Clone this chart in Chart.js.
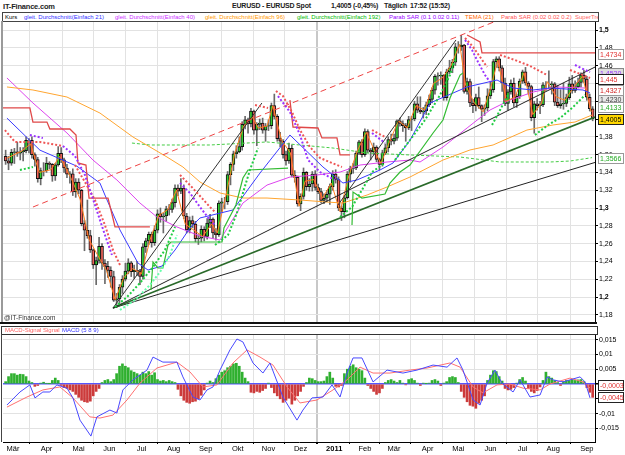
<!DOCTYPE html>
<html>
<head>
<meta charset="utf-8">
<title>EURUSD</title>
<script src="https://cdn.jsdelivr.net/npm/chart.js@4.4.0/dist/chart.umd.min.js"></script>
<style>
  body { margin: 0; background: #fff; font-family: "Liberation Sans", Arial, sans-serif; }
  #page { position: relative; width: 625px; height: 455px; overflow: hidden; }
  .abs { position: absolute; white-space: nowrap; }
  canvas { position: absolute; left: 0; }
  #priceChart { top: 22px; }
  #macdChart { top: 334px; }
  .hdr { top: 2px; font-size: 7px; font-weight: bold; color: #222; letter-spacing: -0.2px; }
  #legend { left: 2px; top: 12px; width: 595px; height: 8px; border: 1px solid #444; font-size: 6px; line-height: 8px; overflow: hidden; background: #fff; }
  #legend span, #macdLegend span { position: absolute; top: 0; }
  #macdLegend { left: 1px; top: 326px; width: 595px; height: 7px; border: 1px solid #333; font-size: 6px; line-height: 7px; background: #fff; }
  #leftBar { left: 1px; top: 21px; width: 2px; height: 302px; background: #9a9a9a; }
  #bottomLine { left: 0; top: 322px; width: 597px; height: 2px; background: #111; }
  #macdLeft { left: 1px; top: 334px; width: 1px; height: 108px; background: #444; }
  #watermark { left: 4px; top: 314px; font-size: 6.5px; color: #333; }
</style>
</head>
<body>
<div id="page">
  <div class="abs hdr" style="left:3px;font-size:7.5px">IT-Finance.com</div>
  <div class="abs hdr" style="left:232px">EURUSD - EURUSD Spot</div>
  <div class="abs hdr" style="left:331px">1,4005 (-0,45%)</div>
  <div class="abs hdr" style="left:384px">Täglich</div>
  <div class="abs hdr" style="left:410px">17:52 (15:52)</div>
  <canvas id="priceChart" width="625" height="301"></canvas>
  <canvas id="macdChart" width="625" height="121"></canvas>
  <div id="legend" class="abs">
    <span style="left:2px;color:#000">Kurs</span>
    <span style="left:21px;color:#3333ff">gleit. Durchschnitt(Einfach 21)</span>
    <span style="left:112px;color:#cc33ff">gleit. Durchschnitt(Einfach 40)</span>
    <span style="left:202px;color:#ff9900">gleit. Durchschnitt(Einfach 96)</span>
    <span style="left:294px;color:#00bb00">gleit. Durchschnitt(Einfach 192)</span>
    <span style="left:386px;color:#9900ff">Parab SAR (0.1 0.02 0.11)</span>
    <span style="left:462px;color:#ff6600">TEMA (21)</span>
    <span style="left:498px;color:#ff5555">Parab SAR (0.02 0.02 0.2)</span>
    <span style="left:572px;color:#ff6666">SuperTrend</span>
  </div>
  <div id="leftBar" class="abs"></div>
  <div id="bottomLine" class="abs"></div>
  <div id="watermark" class="abs">@IT-Finance.com</div>
  <div id="macdLegend" class="abs">
    <span style="left:3px;color:#ff6666">MACD-Signal Signal</span>
    <span style="left:60px;color:#3333ff">MACD (5 8 9)</span>
  </div>
  <div id="macdLeft" class="abs"></div>
</div>
<script>
// x = trading day index, 0 = 1 Mar 2010
const monthLabels = ["Mär","Apr","Mai","Jun","Jul","Aug","Sep","Okt","Nov","Dez","2011","Feb","Mär","Apr","Mai","Jun","Jul","Aug","Sep"];
const monthStarts = [0,23,45,66,88,110,132,154,175,197,220,241,261,284,305,327,349,370,393];
const priceTicks = [1.18,1.2,1.22,1.24,1.26,1.28,1.3,1.32,1.34,1.36,1.38,1.4,1.42,1.44,1.46,1.48,1.5];
const macdTicks = [-0.015,-0.01,-0.005,0,0.005,0.01,0.015];

// candles, one per two trading days, starting at x = -5
const firstOpen = 1.358;
const closes = [
  1.353,1.3505,1.3625,1.363,1.3615,1.363,1.3645,1.376,1.376,1.360,1.3545,1.333,1.342,1.342,1.3505,1.349,1.336,1.3485,1.3615,1.354,
  1.345,1.338,1.3385,1.318,1.329,1.320,1.2825,1.275,1.269,1.253,1.236,1.241,1.257,1.238,1.2345,1.230,1.223,1.1965,1.198,1.211,
  1.220,1.229,1.2385,1.2285,1.230,1.229,1.223,1.2565,1.263,1.2705,1.261,1.275,1.2935,1.290,1.291,1.299,1.2985,1.306,1.3225,1.319,
  1.3225,1.291,1.2755,1.286,1.282,1.2655,1.266,1.276,1.268,1.283,1.2875,1.272,1.270,1.3055,1.307,1.307,1.3375,1.349,1.361,1.363,
  1.369,1.394,1.399,1.3945,1.409,1.3875,1.394,1.3955,1.3875,1.392,1.3925,1.415,1.403,1.378,1.375,1.360,1.353,1.367,1.337,1.3345,
  1.3045,1.313,1.340,1.324,1.327,1.338,1.323,1.3185,1.3085,1.311,1.3155,1.324,1.338,1.332,1.300,1.296,1.3115,1.338,1.3445,1.345,
  1.3615,1.3745,1.360,1.386,1.365,1.363,1.3685,1.3545,1.349,1.362,1.3675,1.377,1.375,1.3785,1.398,1.395,1.3925,1.390,1.3995,1.400,
  1.417,1.410,1.408,1.409,1.416,1.422,1.4325,1.448,1.4485,1.449,1.424,1.453,1.4575,1.464,1.481,1.481,1.483,1.431,1.442,1.418,
  1.415,1.424,1.415,1.411,1.4125,1.426,1.433,1.4645,1.4675,1.4575,1.4405,1.4175,1.4305,1.440,1.418,1.4255,1.4425,1.453,1.4405,1.4365,
  1.4015,1.417,1.415,1.416,1.4385,1.4385,1.4385,1.4395,1.419,1.415,1.417,1.4175,1.424,1.4395,1.432,1.436,1.441,1.4495,1.445,1.4245,
  1.4115,1.4005
];
const highs = [
  1.365,1.358,1.366,1.367,1.374,1.368,1.368,1.380,1.378,1.380,1.362,1.357,1.345,1.351,1.357,1.352,1.350,1.350,1.369,1.368,
  1.356,1.349,1.341,1.344,1.333,1.333,1.321,1.286,1.309,1.275,1.254,1.245,1.267,1.260,1.242,1.240,1.234,1.229,1.204,1.214,
  1.224,1.238,1.243,1.240,1.236,1.240,1.231,1.260,1.266,1.273,1.273,1.280,1.298,1.300,1.294,1.302,1.304,1.310,1.326,1.326,
  1.333,1.326,1.294,1.290,1.291,1.285,1.270,1.280,1.279,1.288,1.293,1.289,1.277,1.308,1.311,1.312,1.341,1.351,1.364,1.370,
  1.380,1.397,1.403,1.401,1.412,1.410,1.396,1.400,1.401,1.395,1.399,1.418,1.428,1.405,1.385,1.377,1.364,1.373,1.371,1.342,
  1.336,1.316,1.345,1.341,1.333,1.341,1.342,1.327,1.322,1.316,1.320,1.327,1.342,1.343,1.335,1.302,1.314,1.341,1.347,1.350,
  1.364,1.376,1.377,1.389,1.388,1.367,1.373,1.370,1.356,1.365,1.372,1.380,1.383,1.383,1.399,1.401,1.398,1.395,1.403,1.403,
  1.420,1.425,1.425,1.413,1.419,1.427,1.435,1.450,1.452,1.453,1.450,1.456,1.466,1.467,1.485,1.487,1.494,1.484,1.446,1.445,
  1.422,1.428,1.436,1.416,1.416,1.434,1.442,1.467,1.470,1.470,1.460,1.446,1.433,1.444,1.446,1.428,1.445,1.455,1.458,1.442,
  1.438,1.420,1.423,1.420,1.441,1.442,1.454,1.442,1.441,1.438,1.433,1.440,1.428,1.447,1.449,1.443,1.446,1.452,1.455,1.448,
  1.428,1.414
];
const lows = [
  1.349,1.343,1.348,1.350,1.358,1.354,1.353,1.362,1.362,1.356,1.347,1.329,1.326,1.336,1.340,1.344,1.330,1.331,1.347,1.351,
  1.340,1.334,1.328,1.314,1.312,1.316,1.280,1.252,1.266,1.250,1.232,1.214,1.238,1.231,1.215,1.222,1.211,1.195,1.188,1.192,
  1.204,1.218,1.226,1.223,1.221,1.224,1.214,1.220,1.250,1.259,1.256,1.258,1.272,1.284,1.272,1.285,1.292,1.295,1.301,1.314,
  1.316,1.288,1.272,1.272,1.278,1.262,1.259,1.262,1.263,1.265,1.278,1.266,1.264,1.268,1.296,1.299,1.304,1.326,1.342,1.356,
  1.362,1.365,1.389,1.384,1.391,1.383,1.370,1.388,1.384,1.375,1.387,1.389,1.400,1.375,1.369,1.356,1.348,1.350,1.335,1.329,
  1.302,1.297,1.310,1.320,1.319,1.319,1.320,1.316,1.306,1.305,1.307,1.304,1.320,1.328,1.297,1.286,1.289,1.310,1.329,1.339,
  1.343,1.360,1.357,1.358,1.362,1.354,1.360,1.352,1.343,1.347,1.360,1.363,1.371,1.372,1.376,1.392,1.386,1.375,1.388,1.387,
  1.398,1.407,1.406,1.401,1.405,1.414,1.418,1.428,1.438,1.439,1.421,1.421,1.451,1.452,1.460,1.474,1.477,1.429,1.428,1.414,
  1.407,1.409,1.412,1.397,1.404,1.409,1.423,1.430,1.458,1.454,1.431,1.415,1.410,1.428,1.414,1.413,1.423,1.440,1.438,1.428,
  1.398,1.384,1.410,1.406,1.414,1.432,1.434,1.428,1.415,1.413,1.412,1.411,1.414,1.422,1.429,1.430,1.435,1.436,1.441,1.421,
  1.409,1.398
];

// indicator lines: [day index, price]
const sma21 = [[-4.1,1.401],[18.5,1.365],[43.8,1.347],[59.6,1.328],[63,1.3146],[73.3,1.2753],[85.6,1.2382],[92.5,1.2303],[102.1,1.2348],[111,1.2528],[121.2,1.2775],[128.1,1.2888],[150.7,1.2978],[169.2,1.3393],[189.7,1.382],[212.3,1.3461],[226,1.3281],[235.6,1.3315],[251.4,1.3427],[260.3,1.3506],[271.9,1.376],[285.6,1.418],[311,1.436],[331.5,1.4438],[342.5,1.4348],[356.2,1.4326],[367.8,1.4348],[390.4,1.4326],[395.2,1.4292]];
const sma40 = [[-4.1,1.4461],[13.7,1.418],[37,1.3843],[54.8,1.3539],[71.2,1.3315],[87,1.3056],[98.6,1.2899],[112.3,1.2787],[128.1,1.2685],[141.8,1.264],[157.5,1.3056],[174,1.3258],[189.7,1.3348],[208.2,1.3371],[224,1.3404],[237.7,1.3483],[256.2,1.3517],[271.9,1.3539],[278.8,1.3517],[294.5,1.3685],[311,1.3899],[326.7,1.4101],[340.4,1.4213],[356.2,1.4303],[372.6,1.436],[391.8,1.4348]];
const sma96 = [[-4.1,1.436],[13.7,1.4326],[37,1.4247],[59.6,1.4067],[82.2,1.3798],[105.5,1.3573],[116.4,1.3461],[128.1,1.3292],[141.8,1.3169],[157.5,1.3112],[174,1.3112],[196.6,1.309],[215.1,1.3067],[226,1.3056],[242.5,1.3146],[256.2,1.3236],[271.9,1.3348],[294.5,1.3539],[313,1.3652],[328.8,1.3708],[352,1.3876],[369.9,1.3933],[384.9,1.3966],[396.6,1.4045]];
const sma192 = [[81.5,1.373],[93.8,1.3708],[134.9,1.3708],[174,1.3742],[196.6,1.3708],[219.2,1.3674],[242.5,1.3618],[271.9,1.3596],[306.2,1.3573],[333.6,1.3517],[367.8,1.3517],[381.5,1.3528],[396.6,1.3566]];
const tema21 = [[-4,1.356],[6,1.364],[12,1.372],[18,1.340],[26,1.343],[32,1.358],[40,1.333],[46,1.310],[52,1.265],[58,1.247],[64,1.230],[70,1.197],[76,1.222],[82,1.232],[88,1.226],[94,1.265],[100,1.292],[106,1.298],[112,1.320],[118,1.282],[124,1.275],[130,1.268],[136,1.282],[140,1.272],[146,1.315],[152,1.362],[158,1.392],[164,1.402],[168,1.390],[174,1.392],[178,1.415],[184,1.376],[190,1.362],[196,1.302],[200,1.330],[206,1.332],[212,1.311],[218,1.328],[224,1.296],[230,1.336],[236,1.365],[242,1.385],[248,1.363],[252,1.350],[258,1.375],[264,1.398],[270,1.390],[276,1.415],[282,1.410],[288,1.440],[294,1.446],[300,1.460],[306,1.484],[310,1.438],[316,1.418],[322,1.408],[328,1.440],[332,1.466],[338,1.420],[344,1.425],[350,1.452],[356,1.405],[362,1.418],[366,1.442],[372,1.425],[378,1.421],[384,1.436],[390,1.448],[396,1.408]];

const superTrendDown = [
  [[-6.8,1.4124],[11.6,1.4124],[13.7,1.3966],[23.3,1.3966],[25.3,1.3888],[39,1.3888],[43.2,1.382],[44.5,1.3506],[50,1.3483],[52.1,1.3112],[65.1,1.3112],[67.8,1.2933],[69.9,1.2787],[93.8,1.2787]],
  [[189.7,1.4213],[191.8,1.391],[208.9,1.3899],[211.6,1.3787],[221.9,1.3787],[224,1.3596],[230.8,1.3596]],
  [[311,1.4944],[319.9,1.4865],[321.2,1.4742],[398.6,1.4742]]
];
const superTrendUp = [
  [[94.5,1.2079],[95.9,1.2393],[99.3,1.2326],[102.7,1.2326],[106.2,1.2584],[108.2,1.2618],[143.2,1.2618],[144.5,1.2775],[152.7,1.3034],[157.5,1.3337],[161,1.3427],[188.4,1.3449]],
  [[232.2,1.2809],[232.9,1.318],[239,1.3112],[254.8,1.3157],[258.2,1.3281],[265.1,1.3404],[271.9,1.3483],[287.7,1.3843],[294.5,1.3989],[299.3,1.4236],[306.2,1.4494],[308.2,1.4517]]
];

const sarPurple = [
  [[11.6,1.382],[20.5,1.3787]],
  [[34.2,1.3697],[42.5,1.3584],[49.3,1.3371],[56.2,1.3034],[63,1.2697],[67.8,1.2472]],
  [[114.4,1.3281],[121.2,1.3169],[128.1,1.3011],[134.9,1.2865],[138.4,1.2809]],
  [[181.5,1.4258],[189.7,1.4079],[196.6,1.382],[202.1,1.3539],[210.3,1.3404],[220.5,1.3315]],
  [[245.9,1.3843],[254.8,1.373]],
  [[309.6,1.4888],[314.4,1.4775],[318.5,1.464],[323.3,1.4494],[326.7,1.4416]],
  [[384.9,1.4607],[391.8,1.4551],[395.2,1.4528]]
];
const sarRed = [
  [[-5.5,1.3876],[1.4,1.3742],[18.5,1.3742],[34.2,1.3697]],
  [[42.5,1.3483],[49.3,1.3292],[56.2,1.309],[63,1.2809],[68.5,1.2528],[73.3,1.236]],
  [[114.4,1.3371],[121.2,1.3258],[128.1,1.3135],[134.9,1.3011],[138.4,1.2955]],
  [[165.8,1.4157],[174.7,1.4124]],
  [[180.1,1.4315],[184.9,1.4258],[191.1,1.4079],[196.6,1.3876],[203.4,1.3685],[210.3,1.3562],[218.5,1.3506],[225.3,1.3461]],
  [[245.9,1.3876],[254.8,1.3798]],
  [[309.6,1.491],[315.1,1.481],[319.9,1.4697],[324.7,1.4584]],
  [[333.6,1.4719],[343.8,1.4663],[354.1,1.4596],[365.8,1.4494]],
  [[381.5,1.4551],[395.2,1.4461]]
];
const sarGreen = [
  [[4.8,1.3427],[13.7,1.3461]],
  [[69.9,1.1888],[78.1,1.2],[87,1.2157],[95.9,1.2337],[104.1,1.2528],[111,1.2787]],
  [[138.4,1.2584],[147.3,1.2697],[153.4,1.2944],[157.5,1.3169],[162.3,1.3427],[167.8,1.3674]],
  [[224,1.2899],[232.2,1.3011],[239,1.3202],[245.9,1.3404],[254.8,1.3506]],
  [[261.6,1.3539],[271.9,1.3764],[282.2,1.3989],[292.5,1.427],[299.3,1.4494],[303.4,1.4685]],
  [[328.1,1.3933],[333.6,1.4101],[339,1.427]],
  [[357.5,1.382],[366.4,1.3933],[374.7,1.4011],[383.6,1.4135],[391.8,1.427]]
];
const sarLightGreen = [
  [[73.3,1.1854],[83.6,1.1966],[93.8,1.2135],[100.7,1.2281],[107.5,1.2472],[112.3,1.2697]]
];

// drawn trend lines: [day index, price]
const channelRed = [[13.7,1.3011],[337,1.5141]];
const fanA = [[68.5,1.1876],[398.6,1.4584]];
const fanB = [[68.5,1.1876],[398.6,1.4022]];
const fanC = [[68.5,1.1876],[398.6,1.3512]];
const rallyLine = [[68.5,1.1876],[170.5,1.418]];
const rallyLine2 = [[222.6,1.3034],[303.4,1.4888]];

// MACD panel
const macdHist = [
  0.0008,0.0025,0.0035,0.0035,0.003,0.0033,0.0032,0.0025,0.001,0.0005,
  -0.0008,-0.0005,0.0003,0.0006,0.0002,0.0001,0.0012,0.002,0.0012,-0.0005,
  -0.0012,-0.0015,-0.002,-0.0025,-0.0035,-0.0045,-0.0055,-0.006,-0.0062,-0.0058,
  -0.004,-0.0025,-0.0015,0.0005,0.0012,0.0015,0.0008,0.0015,0.0035,0.006,
  0.0068,0.006,0.0055,0.0045,0.004,0.0035,0.003,0.004,0.0035,0.0042,
  0.003,0.0038,0.0015,0.001,0.0012,0.0008,0.0012,0.0008,0.0005,-0.0018,
  -0.004,-0.0055,-0.0062,-0.0065,-0.006,-0.0058,-0.005,-0.0038,-0.002,0.0003,
  0.001,0.0005,0.0018,0.003,0.004,0.0045,0.0055,0.006,0.0068,0.007,
  0.006,0.004,0.002,0.0008,-0.0028,-0.003,-0.0025,-0.0028,-0.0022,-0.0015,
  0.0003,-0.0012,-0.003,-0.004,-0.005,-0.0062,-0.0055,-0.0048,-0.0068,-0.0055,
  -0.004,-0.0025,-0.0008,0.0005,0.002,0.0018,0.0012,0.0008,0.0008,0.001,
  0.0025,0.004,0.002,-0.0008,-0.001,-0.0005,0.0035,0.005,0.006,0.0065,
  0.0055,0.005,0.0045,0.002,-0.0005,-0.0015,-0.0025,-0.0035,-0.003,-0.0015,
  0.0005,0.0012,0.0015,0.001,0.0005,0.0012,0.0003,-0.0003,0.0015,0.0018,
  0.0012,0.0003,-0.0005,0.0003,0.0001,0.0003,0.0012,0.0015,0.001,-0.0005,
  0.0003,0.0008,0.0022,0.0025,0.0022,0.0005,-0.0025,-0.0045,-0.006,-0.0072,
  -0.0075,-0.0082,-0.0065,-0.0055,-0.004,0.0012,0.003,0.0045,0.0042,0.0025,
  0.001,-0.0015,-0.002,-0.0018,-0.0012,0.0003,0.0015,0.0022,0.001,-0.0015,
  -0.0025,-0.003,-0.0022,-0.001,0.0012,0.004,0.0025,0.002,0.0012,0.0005,
  -0.0005,0.0008,0.0012,0.0012,0.0015,0.0012,0.0014,0.0015,0.0008,-0.0012,
  -0.0028,-0.0045
];
const macdLine = [[-4.1,-0.0071],[4.8,-0.0027],[11.6,-0.0003],[15.1,-0.0047],[20.5,-0.0027],[25.3,-0.0027],[30.1,-0.0003],[37,-0.0014],[41.1,-0.0047],[45.9,-0.0122],[53.4,-0.0176],[57.5,-0.0111],[66.4,-0.0088],[71.2,-0.0098],[75.3,-0.002],[82.2,0.0014],[91.8,0.0047],[95.9,0.0091],[102.7,0.0074],[112.3,0.0074],[116.4,0.0024],[123.3,-0.0044],[128.1,-0.0054],[132.9,-0.002],[137,-0.001],[141.8,0.0047],[148.6,0.0115],[153.4,0.0152],[157.5,0.0142],[164.4,0.0071],[171.2,0.0037],[176,0.0071],[184.9,-0.0044],[194.5,-0.0122],[198.6,-0.0088],[204.8,-0.0047],[212.3,-0.0044],[218.5,-0.0003],[224,-0.0044],[228.8,0.0037],[232.9,0.0088],[239,0.0088],[246.6,0.0007],[256.2,0.0047],[267.1,0.0037],[276.7,0.0047],[287.7,0.0064],[297.3,0.0057],[304.1,0.0088],[308.2,0.0047],[315.1,-0.0054],[319.9,-0.0071],[324.7,0.0003],[330.1,0.0047],[334.9,0.0003],[342.5,-0.0027],[347.3,0.0014],[354.1,-0.0044],[361,-0.0037],[365.8,0.0024],[369.9,0.0014],[376.7,0.0007],[388.4,0.0024],[391.8,0.0007],[395.2,-0.0047]];
const signalLine = [[-4.1,-0.0078],[9.6,-0.0044],[20.5,-0.002],[32.2,-0.001],[41.1,-0.0047],[52.7,-0.0111],[59.6,-0.0115],[68.5,-0.0105],[78.1,-0.0054],[87,0.0003],[98.6,0.0054],[112.3,0.0074],[121.2,0.0041],[130.1,-0.001],[139.7,-0.0003],[150.7,0.0071],[160.3,0.0115],[169.2,0.0091],[178.1,0.0064],[187.7,-0.001],[196.6,-0.0064],[208.2,-0.0054],[219.2,-0.002],[228.8,0.0014],[237.7,0.0057],[246.6,0.0037],[258.2,0.0037],[271.9,0.0047],[283.6,0.0054],[299.3,0.0071],[306.2,0.0057],[315.1,-0.001],[321.9,-0.003],[331.5,-0.0003],[340.4,0],[349.3,-0.0014],[361,-0.002],[367.8,0],[381.5,0.002],[390.4,0.0007],[395.2,-0.0014]];

// last-value tags on the right axis
const priceTagValues = [1.4734, 1.4520, 1.4230, 1.445, 1.4327, 1.4133, 1.4005, 1.3566];
const priceTagTexts = ["1,4734", "1,4520", "1,4230", "1,445", "1,4327", "1,4133", "1,4005", "1,3566"];
const macdTagValues = [-0.0003, -0.0045];
const macdTagTexts = ["-0,0003", "-0,0045"];

// ---------- build ----------
const X_MIN = -6.8, X_MAX = 398.6;
const FONT = '"Liberation Sans", Arial, sans-serif';
const candleX = closes.map((c, i) => -5 + 2 * i);
const opens = closes.map((c, i) => i ? closes[i - 1] : firstOpen);

function lineSet(points, color, width, dash, order) {
  return {
    type: 'line',
    data: points.map(p => ({ x: p[0], y: p[1] })),
    borderColor: color, borderWidth: width, borderDash: dash || [],
    pointRadius: 0, fill: false, tension: 0, order: order
  };
}

function tagPlugin(values, texts, styles) {
  return {
    id: 'tags',
    afterDraw(chart) {
      const { ctx, chartArea } = chart;
      const ys = chart.scales.y;
      ctx.save();
      ctx.font = '7px ' + FONT;
      ctx.textBaseline = 'middle';
      values.forEach((v, i) => {
        const s = styles[i];
        const y = Math.round(ys.getPixelForValue(v));
        const x = chartArea.right + 3;
        ctx.fillStyle = s.bg;
        ctx.fillRect(x, y - 5, 26, 11);
        ctx.strokeStyle = s.border;
        ctx.lineWidth = 1;
        ctx.strokeRect(x + 0.5, y - 4.5, 25, 10);
        ctx.fillStyle = s.color;
        ctx.fillText(texts[i], x + 2, y + 1);
      });
      ctx.restore();
    }
  };
}

function noPad(s) { s.paddingTop = 0; s.paddingBottom = 0; s.paddingLeft = 0; s.paddingRight = 0; }
const isTick = (ctx, v) => !!(ctx.tick && Math.abs(ctx.tick.value - v) < 1e-9);
const isWhole = ctx => !!(ctx.tick && Math.abs(ctx.tick.value * 10 - Math.round(ctx.tick.value * 10)) < 1e-6);

const priceFmt = v => String(Number(v.toFixed(2))).replace('.', ',');
const macdFmt = v => Math.abs(v) < 1e-9 ? '0' : String(Number(v.toFixed(3))).replace('.', ',');

const datasets = [];
datasets.push({
  type: 'bar', data: candleX.map((x, i) => ({ x: x, y: [lows[i], highs[i]] })),
  backgroundColor: '#6a6a6a', borderWidth: 0, barThickness: 1, grouped: false, order: 20
});
datasets.push({
  type: 'bar', data: candleX.map((x, i) => ({ x: x, y: [opens[i], closes[i]] })),
  backgroundColor: closes.map((c, i) => c >= opens[i] ? '#33cc33' : '#f0625a'),
  borderColor: '#111', borderWidth: 1, borderSkipped: false,
  barThickness: 3, grouped: false, order: 19
});
datasets.push(lineSet(sma192, '#44cc44', 1, [3, 2], 8));
datasets.push(lineSet(sma96, '#ffa530', 1, [], 7));
datasets.push(lineSet(sma40, '#dd44ee', 1, [], 7));
datasets.push(lineSet(sma21, '#3a3aff', 1, [], 6));
datasets.push(lineSet(tema21, '#ff8020', 1, [], 6));
datasets.push(lineSet(channelRed, '#ee4444', 1, [6, 4], 5));
datasets.push(lineSet(fanA, '#222', 1, [], 5));
datasets.push(lineSet(fanB, '#2a6a2a', 1.6, [], 5));
datasets.push(lineSet(fanC, '#222', 1, [], 5));
datasets.push(lineSet(rallyLine, '#333', 1, [], 5));
datasets.push(lineSet(rallyLine2, '#333', 1, [], 5));
superTrendDown.forEach(seg => datasets.push(lineSet(seg, '#e04848', 1.3, [], 4)));
superTrendUp.forEach(seg => datasets.push(lineSet(seg, '#33bb33', 1.2, [], 4)));
sarPurple.forEach(seg => datasets.push(lineSet(seg, '#9933ff', 2, [2, 2], 3)));
sarRed.forEach(seg => datasets.push(lineSet(seg, '#ee5555', 2, [2, 2], 3)));
sarGreen.forEach(seg => datasets.push(lineSet(seg, '#22cc44', 2, [2, 2], 3)));
sarLightGreen.forEach(seg => datasets.push(lineSet(seg, '#66ffaa', 2, [2, 2], 3)));

const xGrid = {
  color: ctx => isTick(ctx, 220) ? '#c8c8c8' : '#e2e2e2',
  lineWidth: ctx => isTick(ctx, 220) ? 2 : 1,
  drawTicks: false
};

new Chart(document.getElementById('priceChart'), {
  type: 'line',
  data: { datasets: datasets },
  options: {
    responsive: false, animation: false, events: [],
    layout: { padding: { left: 3, right: 0, top: 0, bottom: 0 } },
    plugins: { legend: { display: false }, tooltip: { enabled: false } },
    scales: {
      x: {
        type: 'linear', min: X_MIN, max: X_MAX, offset: false,
        afterBuildTicks: s => { s.ticks = monthStarts.map(v => ({ value: v })); },
        ticks: { display: false },
        grid: xGrid,
        border: { display: false },
        afterFit: s => { s.height = 0; noPad(s); }
      },
      y: {
        position: 'right', min: 1.1708, max: 1.509,
        afterBuildTicks: s => { s.ticks = priceTicks.map(v => ({ value: v })); },
        ticks: {
          callback: v => priceFmt(v), color: '#000', padding: 1,
          font: ctx => ({ family: FONT, size: 7, weight: isWhole(ctx) ? 'bold' : 'normal' })
        },
        grid: { color: '#e2e2e2', tickColor: '#000', tickLength: 3 },
        border: { color: '#000' },
        afterFit: s => { s.width = 30; noPad(s); }
      }
    }
  },
  plugins: [tagPlugin(priceTagValues, priceTagTexts, [
    { bg: '#fff', border: '#999', color: '#e03030' },
    { bg: '#dedede', border: '#888', color: '#9933ff' },
    { bg: '#e8e8e8', border: '#888', color: '#444' },
    { bg: '#fff', border: '#222', color: '#e03030' },
    { bg: '#fff', border: '#999', color: '#d02020' },
    { bg: '#fff', border: '#999', color: '#22aa22' },
    { bg: '#ffd700', border: '#222', color: '#000' },
    { bg: '#fff', border: '#999', color: '#22aa22' }
  ])]
});

new Chart(document.getElementById('macdChart'), {
  type: 'line',
  data: {
    datasets: [
      {
        type: 'bar', data: macdHist.map((v, i) => ({ x: -5 + 2 * i, y: v })),
        backgroundColor: macdHist.map(v => v >= 0 ? '#2fb02f' : '#cc3b3b'),
        borderWidth: 0, barThickness: 2, grouped: false, order: 5
      },
      lineSet(signalLine, '#ff7070', 1, [], 2),
      lineSet(macdLine, '#4848ff', 1, [], 1)
    ]
  },
  options: {
    responsive: false, animation: false, events: [],
    layout: { padding: { left: 3, right: 0, top: 0, bottom: 0 } },
    plugins: { legend: { display: false }, tooltip: { enabled: false } },
    scales: {
      x: {
        type: 'linear', min: X_MIN, max: X_MAX, offset: false,
        afterBuildTicks: s => { s.ticks = monthStarts.map(v => ({ value: v })); },
        ticks: {
          callback: (v, i) => monthLabels[i], color: '#000', padding: 0, maxRotation: 0, autoSkip: false,
          font: ctx => ({ family: FONT, size: 7.5, weight: isTick(ctx, 220) ? 'bold' : 'normal' })
        },
        grid: { color: ctx => isTick(ctx, 220) ? '#c8c8c8' : '#e2e2e2', lineWidth: ctx => isTick(ctx, 220) ? 2 : 1, tickColor: '#000', tickLength: 2 },
        border: { color: '#000', width: 1 },
        afterFit: s => { s.height = 13; noPad(s); }
      },
      y: {
        position: 'right', min: -0.01959, max: 0.01689,
        afterBuildTicks: s => { s.ticks = macdTicks.map(v => ({ value: v })); },
        ticks: { callback: v => macdFmt(v), color: '#000', padding: 1, font: { family: FONT, size: 7 } },
        grid: {
          color: ctx => isTick(ctx, 0) ? '#5555ff' : '#e2e2e2',
          lineWidth: ctx => isTick(ctx, 0) ? 1.5 : 1,
          tickColor: '#000', tickLength: 3
        },
        border: { color: '#000' },
        afterFit: s => { s.width = 30; noPad(s); }
      }
    }
  },
  plugins: [tagPlugin(macdTagValues, macdTagTexts, [
    { bg: '#fff', border: '#222', color: '#e03030' },
    { bg: '#fff', border: '#222', color: '#e03030' }
  ])]
});
</script>
</body>
</html>
